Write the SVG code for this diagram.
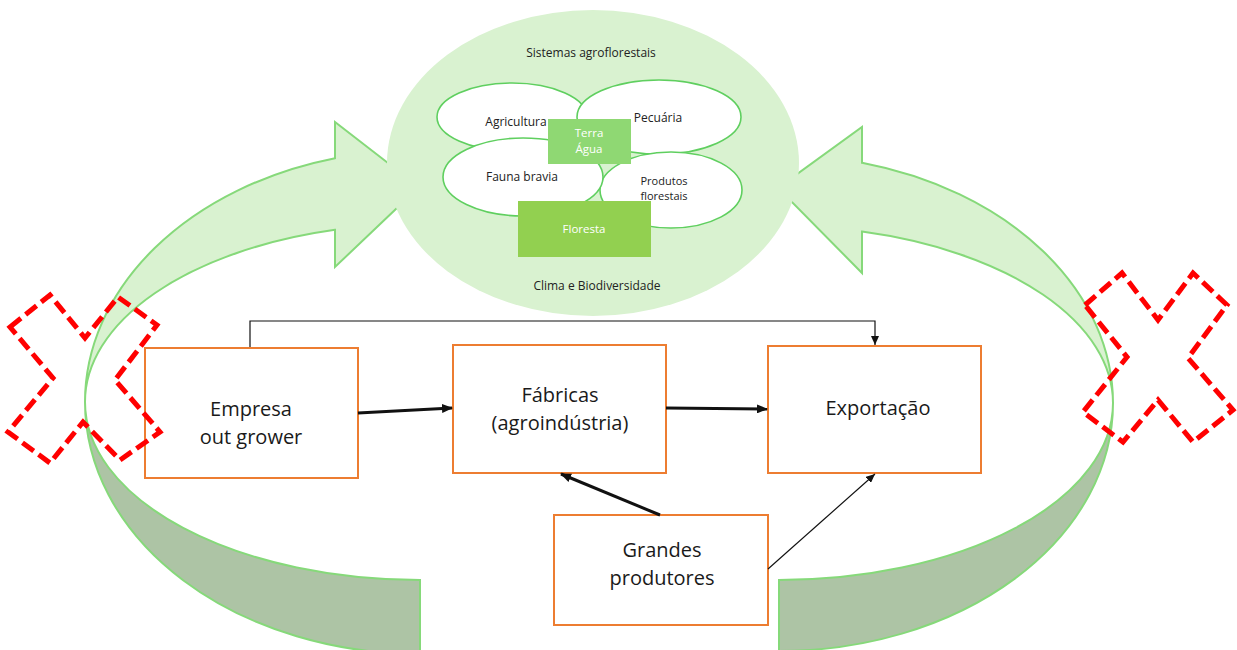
<svg xmlns="http://www.w3.org/2000/svg" width="1237" height="650" viewBox="0 0 1237 650">
<defs>
<style>
.light{fill:#d9f2d0;stroke:#86d97a;stroke-width:2}
.dark{fill:#adc4a5;stroke:#86d97a;stroke-width:2}
.sub{fill:#ffffff;stroke:#5fcf5f;stroke-width:1.6}
.box{fill:#ffffff;stroke:#ed7d31;stroke-width:2}
.cross{fill:none;stroke:#ff0000;stroke-width:5;stroke-dasharray:14 6;stroke-linejoin:miter}
.small{font-family:"Open Sans","Noto Sans",sans-serif;font-size:12px;fill:#222222;text-anchor:middle}
.tight{font-size:11px}
.white{font-family:"Open Sans","Noto Sans",sans-serif;font-size:11.5px;fill:#ffffff;text-anchor:middle}
.big{font-family:"Open Sans","Noto Sans",sans-serif;font-size:20px;fill:#1a1a1a;text-anchor:middle}
.thick{stroke:#111111;stroke-width:3;fill:none}
.thin{stroke:#111111;stroke-width:1.2;fill:none}
</style>
<marker id="ahThick" markerUnits="userSpaceOnUse" markerWidth="11" markerHeight="9" refX="10" refY="4.5" orient="auto">
<path d="M0,0 L11,4.5 L0,9 z" fill="#111111"/>
</marker>
<marker id="ahThin" markerUnits="userSpaceOnUse" markerWidth="9" markerHeight="8" refX="9" refY="4" orient="auto">
<path d="M0,0 L9,4 L0,8 z" fill="#111111"/>
</marker>
</defs>

<g id="cycle-arrows">
<path class="dark" d="M85 402 A335 252 0 0 0 420 654 L420 580 A335 178 0 0 1 85 402 Z"/>
<path class="light" d="M85 402 A335 252 0 0 1 335 158.2 L335 122 L419 187 L335 267 L335 229.8 A335 178 0 0 0 85 402 Z"/>
<path class="dark" d="M1113 403 A334 248 0 0 1 779 651 L779 580 A334 177 0 0 0 1113 403 Z"/>
<path class="light" d="M1113 403 A334 248 0 0 0 862 162.8 L862 127 L778 188 L862 273 L862 231.6 A334 177 0 0 1 1113 403 Z"/>
</g>

<g id="agroforestry">
<ellipse cx="593" cy="163" rx="206" ry="153" fill="#d9f2d0"/>
<text class="small" x="591" y="57">Sistemas agroflorestais</text>
<text class="small" x="597" y="290">Clima e Biodiversidade</text>
<g id="agricultura">
<ellipse class="sub" cx="512" cy="117" rx="75" ry="34"/>
</g>
<g id="pecuaria">
<ellipse class="sub" cx="659" cy="117" rx="82" ry="37"/>
<text class="small" x="658" y="122">Pecuária</text>
</g>
<g id="produtos-florestais">
<ellipse class="sub" cx="671" cy="190" rx="71" ry="38"/>
</g>
<g id="fauna-bravia">
<ellipse class="sub" cx="523" cy="177" rx="80" ry="39"/>
<text class="small" x="522" y="181">Fauna bravia</text>
</g>
<text class="small" x="516" y="126">Agricultura</text>
<text class="small tight" x="664" y="185">Produtos</text>
<text class="small tight" x="664" y="200">florestais</text>
<g id="terra-agua">
<rect x="548" y="119" width="83" height="45" fill="#8fd873"/>
<text class="white" x="589" y="137">Terra</text>
<text class="white" x="589" y="153">Água</text>
</g>
<g id="floresta">
<rect x="518" y="201" width="133" height="56" fill="#92d050"/>
<text class="white" x="584" y="233">Floresta</text>
</g>
</g>

<g id="empresa">
<rect class="box" x="145" y="348" width="213" height="130"/>
<text class="big" x="251" y="416">Empresa</text>
<text class="big" x="251" y="444">out grower</text>
</g>
<g id="fabricas">
<rect class="box" x="453" y="345" width="213" height="128"/>
<text class="big" x="560" y="402">Fábricas</text>
<text class="big" x="560" y="430">(agroindústria)</text>
</g>
<g id="exportacao">
<rect class="box" x="768" y="346" width="213" height="127"/>
<text class="big" x="878" y="415">Exportação</text>
</g>
<g id="grandes">
<rect class="box" x="554" y="515" width="214" height="110"/>
<text class="big" x="662" y="557">Grandes</text>
<text class="big" x="662" y="585">produtores</text>
</g>

<g id="connectors">
<polyline class="thin" points="250,347 250,321 875,321 875,345" marker-end="url(#ahThin)"/>
<line class="thick" x1="358" y1="413" x2="452" y2="408" marker-end="url(#ahThick)"/>
<line class="thick" x1="666" y1="408" x2="767" y2="409" marker-end="url(#ahThick)"/>
<line class="thick" x1="660" y1="515" x2="561" y2="474" marker-end="url(#ahThick)"/>
<line class="thin" x1="768" y1="569" x2="875" y2="474" marker-end="url(#ahThin)"/>
</g>

<g id="crosses">
<polygon class="cross" points="10,327 50,295 85,338 118,297 157,325 115,380 160,432 120,460 83,422 50,463 8,432 53,378"/>
<polygon class="cross" points="1085,305 1122,273 1158,320 1193,273 1227,305 1188,358 1233,410 1193,442 1158,400 1123,442 1083,412 1127,357"/>
</g>
</svg>
